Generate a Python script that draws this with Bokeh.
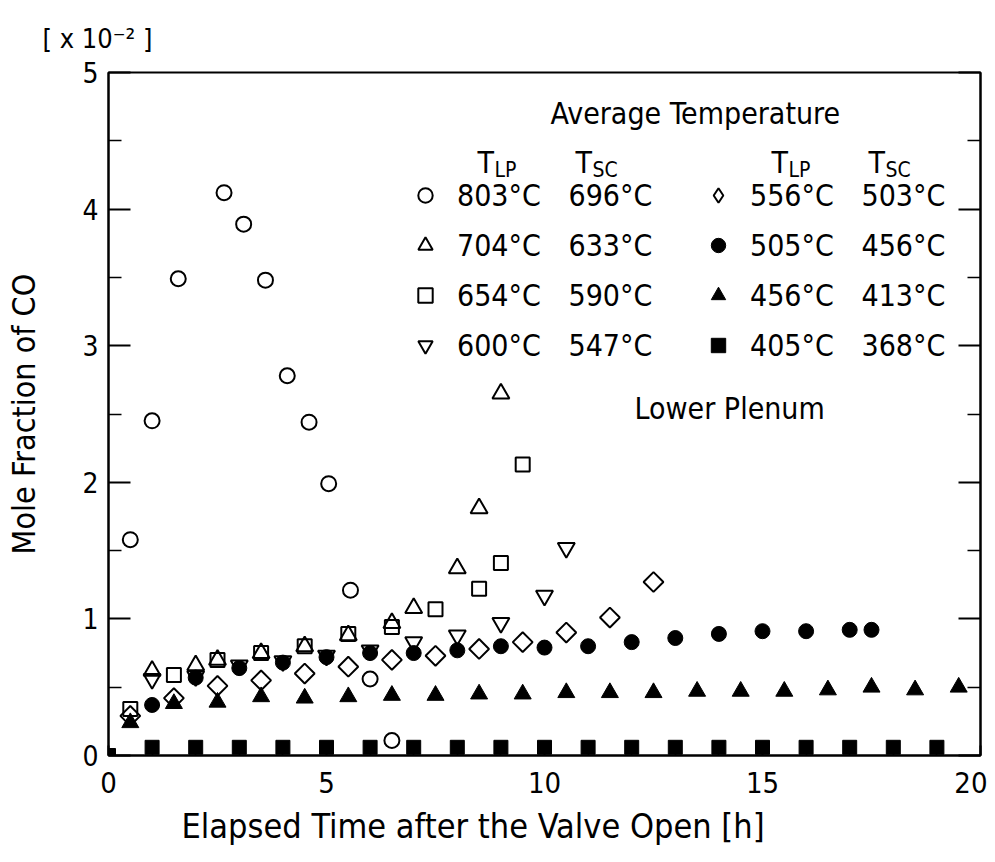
import numpy as np
from bokeh.plotting import figure
from bokeh.models import Range1d, LinearAxis, Label, Legend, LegendItem, FixedTicker, Title
from bokeh.embed import file_html
from bokeh.resources import INLINE

# ---------------- data ----------------
t_803 = [0.5, 1.0, 1.6, 2.65, 3.1, 3.6, 4.1, 4.6, 5.05, 5.55, 6.0, 6.5]
co_803 = [1.58, 2.45, 3.49, 4.12, 3.89, 3.48, 2.78, 2.44, 1.99, 1.21, 0.56, 0.11]

t_704 = [1.0, 2.0, 2.5, 3.5, 4.5, 5.5, 6.5, 7.0, 8.0, 8.5, 9.0]
co_704 = [0.62, 0.66, 0.70, 0.75, 0.80, 0.88, 0.97, 1.08, 1.37, 1.81, 2.65]

t_654 = [0.5, 1.5, 2.5, 3.5, 4.5, 5.5, 6.5, 7.5, 8.5, 9.0, 9.5]
co_654 = [0.34, 0.59, 0.70, 0.75, 0.80, 0.89, 0.94, 1.07, 1.22, 1.41, 2.13]

t_600 = [1.0, 2.0, 3.0, 4.0, 5.0, 6.0, 7.0, 8.0, 9.0, 10.0, 10.5]
co_600 = [0.56, 0.58, 0.66, 0.69, 0.73, 0.77, 0.83, 0.88, 0.97, 1.17, 1.52]

t_556 = [0.5, 1.5, 2.5, 3.5, 4.5, 5.5, 6.5, 7.5, 8.5, 9.5, 10.5, 11.5, 12.5]
co_556 = [0.29, 0.42, 0.51, 0.55, 0.60, 0.65, 0.70, 0.73, 0.78, 0.83, 0.90, 1.01, 1.27]

t_505 = [1, 2, 3, 4, 5, 6, 7, 8, 9, 10, 11, 12, 13, 14, 15, 16, 17, 17.5]
co_505 = [0.37, 0.57, 0.64, 0.68, 0.72, 0.75, 0.75, 0.77, 0.80, 0.79, 0.80, 0.83,
          0.86, 0.89, 0.91, 0.91, 0.92, 0.92]

t_456 = [0.5, 1.5, 2.5, 3.5, 4.5, 5.5, 6.5, 7.5, 8.5, 9.5, 10.5, 11.5, 12.5, 13.5,
         14.5, 15.5, 16.5, 17.5, 18.5, 19.5]
co_456 = [0.24, 0.38, 0.39, 0.43, 0.42, 0.43, 0.44, 0.44, 0.45, 0.45, 0.46, 0.46,
          0.46, 0.47, 0.47, 0.47, 0.48, 0.50, 0.48, 0.50]

t_405 = [0, 1, 2, 3, 4, 5, 6, 7, 8, 9, 10, 11, 12, 13, 14, 15, 16, 17, 18, 19]
co_405 = [0.0, 0.06, 0.06, 0.06, 0.06, 0.06, 0.06, 0.06, 0.06, 0.06, 0.06, 0.06,
          0.06, 0.06, 0.06, 0.06, 0.06, 0.06, 0.06, 0.06]

tlp_left = ["803°C", "704°C", "654°C", "600°C"]
tsc_left = ["696°C", "633°C", "590°C", "547°C"]
tlp_right = ["556°C", "505°C", "456°C", "405°C"]
tsc_right = ["503°C", "456°C", "413°C", "368°C"]

x_ticks = [0, 5, 10, 15, 20]
y_ticks = [0, 1, 2, 3, 4, 5]

# ---------------- layout ----------------
FONT = "'Liberation Sans Narrow', 'DejaVu Sans Condensed', 'Liberation Sans', sans-serif"
FL, FT, FW, FH = 108, 72, 872, 683        # frame in figure px
W, HT = 987, 862
X0, X1, Y0, Y1 = 0.0, 20.0, 0.0, 5.0


def dx(px):  # figure px -> data x
    return X0 + (px - FL) / FW * (X1 - X0)


def dy(py):  # figure px -> data y
    return Y0 + (FT + FH - py) / FH * (Y1 - Y0)


p = figure(width=W, height=HT, frame_width=FW, frame_height=FH,
           x_range=Range1d(X0, X1), y_range=Range1d(Y0, Y1),
           output_backend="svg", toolbar_location=None,
           min_border_left=FL, min_border_top=FT, min_border_right=W - FL - FW,
           min_border_bottom=HT - FT - FH)
p.xgrid.visible = False
p.ygrid.visible = False
p.outline_line_color = "black"
p.outline_line_width = 2
p.background_fill_color = "white"
p.border_fill_color = "white"

yt = FixedTicker(ticks=y_ticks, minor_ticks=[0.5, 1.5, 2.5, 3.5, 4.5])
xt = FixedTicker(ticks=x_ticks, minor_ticks=[i for i in range(1, 20) if i % 5])

for ax in p.yaxis:
    ax.ticker = yt
    ax.major_tick_in = 22
    ax.major_tick_out = 0
    ax.minor_tick_in = 13
    ax.minor_tick_out = 0
    ax.axis_line_width = 2
    ax.major_tick_line_width = 2
    ax.minor_tick_line_width = 1.5
    ax.major_label_text_font = FONT
    ax.major_label_text_font_size = "28px"
    ax.major_label_text_color = "black"
    ax.major_label_standoff = 10
    ax.axis_label = "Mole Fraction of CO"
    ax.axis_label_text_font = FONT
    ax.axis_label_text_font_size = "32px"
    ax.axis_label_text_font_style = "normal"
    ax.axis_label_text_color = "black"
    ax.axis_label_standoff = 36

for ax in p.xaxis:
    ax.ticker = xt
    ax.major_tick_in = 10
    ax.major_tick_out = 0
    ax.minor_tick_in = 5
    ax.minor_tick_out = 0
    ax.axis_line_width = 2
    ax.major_tick_line_width = 2
    ax.minor_tick_line_width = 1.5
    ax.major_label_text_font = FONT
    ax.major_label_text_font_size = "29px"
    ax.major_label_text_color = "black"
    ax.major_label_standoff = 16

ra = LinearAxis(ticker=yt, major_tick_in=22, major_tick_out=0, minor_tick_in=13,
                minor_tick_out=0, axis_line_width=2, major_tick_line_width=2,
                minor_tick_line_width=1.5, major_label_standoff=0,
                major_label_overrides={t: "" for t in y_ticks})
p.add_layout(ra, "right")

# x axis title (left-shifted like the reference) and exponent note
p.add_layout(Title(text="Elapsed Time after the Valve Open [h]", align="left", offset=73,
                   text_font=FONT, text_font_size="34px", text_font_style="normal",
                   text_color="black", standoff=16), "below")
p.add_layout(Title(text="[ x 10⁻² ]", align="left", offset=-66,
                   text_font=FONT, text_font_size="27px", text_font_style="normal",
                   text_color="black", standoff=38), "above")

# ---------------- data marks ----------------
open_kw = dict(fill_alpha=0, line_color="black", line_width=2)
fill_kw = dict(fill_color="black", line_color="black", line_width=1)

r405 = p.scatter(t_405, co_405, marker="square", size=14, **fill_kw)
r456 = p.scatter(t_456, co_456, marker="triangle", size=17, **fill_kw)
r505 = p.scatter(t_505, co_505, marker="circle", size=15, **fill_kw)
r556 = p.scatter(t_556, co_556, marker="square", angle=np.pi / 4, size=14, **open_kw)
r600 = p.scatter(t_600, co_600, marker="inverted_triangle", size=17, **open_kw)
r654 = p.scatter(t_654, co_654, marker="square", size=14, **open_kw)
r704 = p.scatter(t_704, co_704, marker="triangle", size=17, **open_kw)
r803 = p.scatter(t_803, co_803, marker="circle", size=15, **open_kw)
# hidden twin of the diamond series, used only as its legend key
# (the legend does not apply the marker angle)
r556_key = p.scatter(t_556, co_556, marker="diamond", size=20, visible=False, **open_kw)

# ---------------- legend ----------------
H, SP = 36, 14
leg_kw = dict(orientation="vertical", border_line_alpha=0, background_fill_alpha=0,
              padding=0, margin=0, glyph_width=H, glyph_height=H, label_height=H,
              label_standoff=14, spacing=SP, label_text_font=FONT,
              label_text_font_size="30px", label_text_color="black")
leg_bottom = 392
legL = Legend(items=[LegendItem(label=tlp_left[i], renderers=[r])
                     for i, r in enumerate([r803, r704, r654, r600])],
              location=(299, leg_bottom), **leg_kw)
legR = Legend(items=[LegendItem(label=tlp_right[i], renderers=[r])
                     for i, r in enumerate([r556_key, r505, r456, r405])],
              location=(592, leg_bottom), **leg_kw)
p.add_layout(legL)
p.add_layout(legR)

row_top = FT + FH - leg_bottom - (4 * H + 3 * SP)
rows_py = [row_top + H / 2 + i * (H + SP) for i in range(4)]


def lab(x, y, text, size, align="left", baseline="middle", angle=0.0):
    p.add_layout(Label(x=x, y=y, text=text, text_font=FONT, text_font_size=size,
                       text_align=align, text_baseline=baseline, angle=angle,
                       text_color="black"))


for i in range(4):
    lab(dx(568), dy(rows_py[i]), tsc_left[i], "30px")
    lab(dx(861), dy(rows_py[i]), tsc_right[i], "30px")

# headers
lab(dx(550), dy(113), "Average Temperature", "30px")
for tx, sub in [(477, "LP"), (575, "SC"), (771, "LP"), (868, "SC")]:
    lab(dx(tx), dy(162), "T", "30px")
    lab(dx(tx + 17), dy(169), sub, "21px")

lab(dx(634), dy(408), "Lower Plenum", "30px")

open("out.html", "w").write(file_html(p, INLINE))
